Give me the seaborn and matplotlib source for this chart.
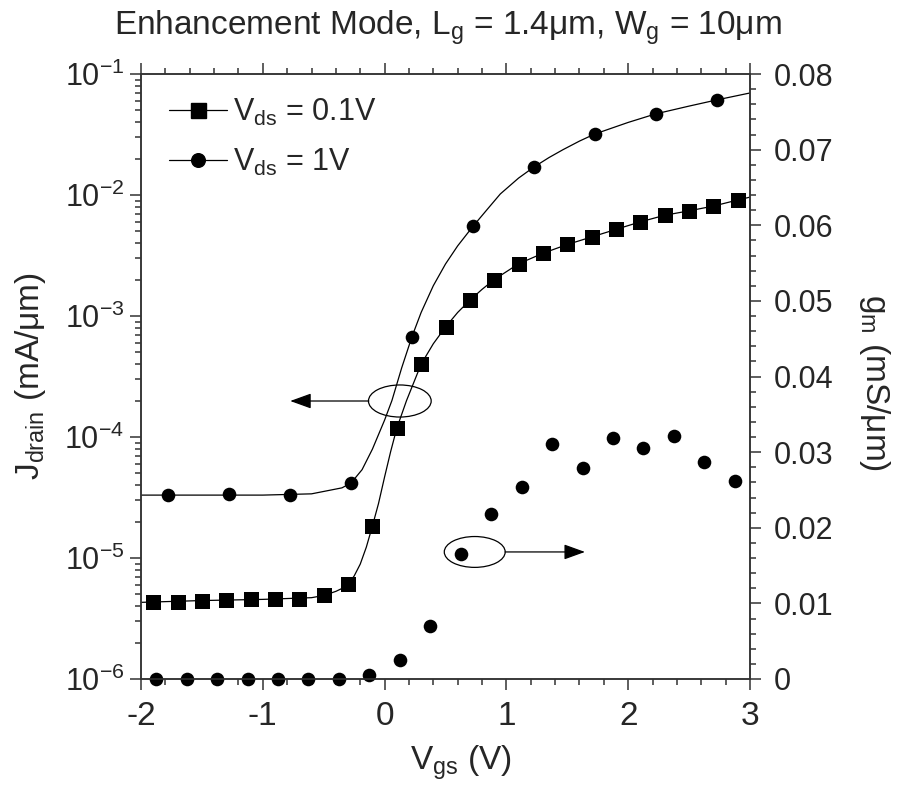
import numpy as np
import pandas as pd
import matplotlib
matplotlib.use("Agg")
import matplotlib.pyplot as plt
import seaborn as sns
from matplotlib.patches import Ellipse
from matplotlib.lines import Line2D
from matplotlib.ticker import LogLocator, MultipleLocator, FixedLocator, FuncFormatter, NullFormatter

# ---------------- data ----------------
title = "Enhancement Mode, L$_{\\mathrm{g}}$ = 1.4\u03bcm, W$_{\\mathrm{g}}$ = 10\u03bcm"

vgs_sq = [-1.9, -1.7, -1.5, -1.3, -1.1, -0.9, -0.7, -0.5, -0.3, -0.1,
          0.1, 0.3, 0.5, 0.7, 0.9, 1.1, 1.3, 1.5, 1.7, 1.9,
          2.1, 2.3, 2.5, 2.7, 2.9]
jd_sq = [4.33e-6, 4.35e-6, 4.45e-6, 4.5e-6, 4.55e-6, 4.6e-6, 4.6e-6, 4.9e-6, 6.1e-6, 1.84e-5,
         1.18e-4, 4.0e-4, 8.1e-4, 1.35e-3, 2.0e-3, 2.7e-3, 3.3e-3, 3.9e-3, 4.5e-3, 5.2e-3,
         6.0e-3, 6.8e-3, 7.4e-3, 8.1e-3, 9.1e-3]

vgs_ci = [-1.775, -1.275, -0.775, -0.275, 0.225, 0.725, 1.225, 1.725, 2.225, 2.725]
jd_ci = [3.32e-5, 3.35e-5, 3.3e-5, 4.17e-5, 6.7e-4, 5.5e-3, 1.70e-2, 3.19e-2, 4.68e-2, 6.1e-2]

# fitted curves
fit_sq_vgs = [-2.0, -1.5, -1.0, -0.6, -0.5, -0.4, -0.35, -0.3, -0.25, -0.2, -0.15, -0.1, -0.05,
              0.0, 0.05, 0.1, 0.18, 0.3, 0.4, 0.5, 0.6, 0.7, 0.8, 0.9, 1.1, 1.3, 1.5, 1.7,
              1.9, 2.1, 2.3, 2.5, 2.7, 2.9, 3.0]
fit_sq_j = [4.3e-6, 4.45e-6, 4.55e-6, 4.7e-6, 4.9e-6, 5.3e-6, 5.6e-6, 6.1e-6, 7.1e-6, 8.9e-6,
            1.23e-5, 1.84e-5, 2.82e-5, 4.68e-5, 7.6e-5, 1.18e-4, 2.0e-4, 4.0e-4, 5.9e-4, 8.1e-4,
            1.07e-3, 1.35e-3, 1.66e-3, 2.0e-3, 2.7e-3, 3.3e-3, 3.9e-3, 4.5e-3, 5.2e-3, 6.0e-3,
            6.8e-3, 7.4e-3, 8.1e-3, 9.1e-3, 9.6e-3]
fit_ci_vgs = [-2.0, -1.0, -0.6, -0.45, -0.35, -0.275, -0.185, -0.1, 0.0, 0.06, 0.14, 0.225,
              0.30, 0.40, 0.5, 0.6, 0.725, 0.85, 0.95, 1.1, 1.225, 1.35, 1.465, 1.6, 1.725,
              2.0, 2.225, 2.5, 2.725, 3.0]
fit_ci_j = [3.31e-5, 3.31e-5, 3.39e-5, 3.63e-5, 3.80e-5, 4.17e-5, 5.37e-5, 7.94e-5, 1.38e-4,
            2.00e-4, 3.72e-4, 6.76e-4, 1.07e-3, 1.78e-3, 2.69e-3, 3.80e-3, 5.50e-3, 7.76e-3,
            1.02e-2, 1.38e-2, 1.70e-2, 2.04e-2, 2.37e-2, 2.79e-2, 3.19e-2, 3.98e-2, 4.68e-2,
            5.43e-2, 6.10e-2, 6.97e-2]

vgs_gm = [-1.875, -1.625, -1.375, -1.125, -0.875, -0.625, -0.375, -0.125, 0.125, 0.375,
          0.625, 0.875, 1.125, 1.375, 1.625, 1.875, 2.125, 2.375, 2.625, 2.875]
gm = [0, 0, 0, 0, 0, 0, 0, 0.0005, 0.0025, 0.007,
      0.0165, 0.0218, 0.0254, 0.0311, 0.0279, 0.0319, 0.0305, 0.0321, 0.0287, 0.0262]

x_ticks = [-2, -1, 0, 1, 2, 3]
x_ticklabels = ["-2", "-1", "0", "1", "2", "3"]
gm_ticks = [0, 0.01, 0.02, 0.03, 0.04, 0.05, 0.06, 0.07, 0.08]
gm_ticklabels = ["0", "0.01", "0.02", "0.03", "0.04", "0.05", "0.06", "0.07", "0.08"]
legend_labels = ["V$_{\\mathrm{ds}}$ = 0.1V", "V$_{\\mathrm{ds}}$ = 1V"]

# ---------------- style ----------------
sns.set_style("ticks")
plt.rcParams["font.family"] = ["Liberation Sans", "DejaVu Sans"]
plt.rcParams["mathtext.fontset"] = "custom"
plt.rcParams["mathtext.rm"] = "Liberation Sans"
plt.rcParams["mathtext.it"] = "Liberation Sans:italic"
plt.rcParams["mathtext.bf"] = "Liberation Sans:bold"
plt.rcParams["axes.unicode_minus"] = False

spine_c = "#333333"

fig = plt.figure(figsize=(8.99, 7.92), dpi=100)
ax = fig.add_axes([141 / 899, 1 - 679 / 792, 609 / 899, 605 / 792])
ax2 = ax.twinx()

# lines (fits)
sns.lineplot(x=fit_sq_vgs, y=fit_sq_j, ax=ax, color="black", lw=0.9, sort=False, estimator=None)
sns.lineplot(x=fit_ci_vgs, y=fit_ci_j, ax=ax, color="black", lw=0.9, sort=False, estimator=None)
# markers
sns.scatterplot(x=vgs_sq, y=jd_sq, ax=ax, marker="s", s=10.8 ** 2, color="black", linewidth=0)
sns.scatterplot(x=vgs_ci, y=jd_ci, ax=ax, marker="o", s=9.8 ** 2, color="black", linewidth=0)
sns.scatterplot(x=vgs_gm, y=gm, ax=ax2, marker="o", s=9.8 ** 2, color="black", linewidth=0)
for coll in ax2.collections:
    coll.set_clip_on(False)

ax.set_yscale("log")
ax.set_xlim(-2, 3)
ax.set_ylim(1e-6, 1e-1)
ax2.set_ylim(0, 0.08)

ax.xaxis.set_major_locator(FixedLocator(x_ticks))
ax.set_xticklabels(x_ticklabels)
ax.xaxis.set_minor_locator(MultipleLocator(0.2))
ax.yaxis.set_major_locator(LogLocator(base=10, numticks=10))
ax.yaxis.set_minor_locator(LogLocator(base=10, subs=np.arange(2, 10), numticks=20))
ax.yaxis.set_minor_formatter(NullFormatter())
ax.yaxis.set_major_formatter(FuncFormatter(lambda v, p: "$10^{%d}$" % int(round(np.log10(v)))))

ax2.yaxis.set_major_locator(FixedLocator(gm_ticks))
ax2.set_yticklabels(gm_ticklabels)
ax2.yaxis.set_minor_locator(MultipleLocator(0.002))

for a in (ax, ax2):
    a.tick_params(which="both", direction="out", color=spine_c, labelsize=22, width=1.1)
    a.tick_params(which="major", length=8)
    a.tick_params(which="minor", length=4)
    for s in a.spines.values():
        s.set_color(spine_c)
        s.set_linewidth(1.1)
        s.set_visible(True)
ax.tick_params(axis="x", which="both", top=True, bottom=True, labeltop=False, pad=8, labelsize=24)
ax.tick_params(axis="y", which="both", left=True, right=False, pad=4)
ax2.tick_params(axis="y", which="both", right=True, left=False, pad=9)

ax.set_xlabel("V$_{\\mathrm{gs}}$ (V)", fontsize=24)
ax.xaxis.set_label_coords(0.525, -0.107)
ax.set_ylabel("J$_{\\mathrm{drain}}$ (mA/\u03bcm)", fontsize=24, ha="center", va="center")
ax.yaxis.set_label_coords(-0.182, 0.5)
ax2.set_ylabel("g$_{\\mathrm{m}}$ (mS/\u03bcm)", fontsize=24, rotation=270, ha="center", va="center")
ax2.yaxis.set_label_coords(1.205, 0.49)

fig.text(448 / 899, 1 - 35 / 792, title, fontsize=24, ha="center", va="baseline")

# legend
handles = [Line2D([], [], color="black", lw=0.9, marker="s", markersize=10.8),
           Line2D([], [], color="black", lw=0.9, marker="o", markersize=9.8)]
ax2.legend(handles, legend_labels, loc="upper left", bbox_to_anchor=(0.046, 0.962),
           frameon=False, fontsize=22, handlelength=1.9, handletextpad=0.2,
           labelspacing=0.62, borderaxespad=0, borderpad=0, numpoints=1)

# annotation ellipses + arrows
ax.add_patch(Ellipse((0.425, 0.4595), 0.103, 0.053, transform=ax.transAxes,
                     fill=False, edgecolor="black", lw=0.9, zorder=5))
ax.annotate("", xy=(0.245, 0.4595), xytext=(0.374, 0.4595), xycoords="axes fraction",
            arrowprops=dict(arrowstyle="-|>,head_length=1.3,head_width=0.47", mutation_scale=10,
                            color="black", lw=0.9, shrinkA=0, shrinkB=0))
ax.add_patch(Ellipse((0.548, 0.21), 0.1, 0.051, transform=ax.transAxes,
                     fill=False, edgecolor="black", lw=0.9, zorder=5))
ax.annotate("", xy=(0.729, 0.21), xytext=(0.598, 0.21), xycoords="axes fraction",
            arrowprops=dict(arrowstyle="-|>,head_length=1.3,head_width=0.47", mutation_scale=10,
                            color="black", lw=0.9, shrinkA=0, shrinkB=0))

fig.savefig("out.png", dpi=100)
